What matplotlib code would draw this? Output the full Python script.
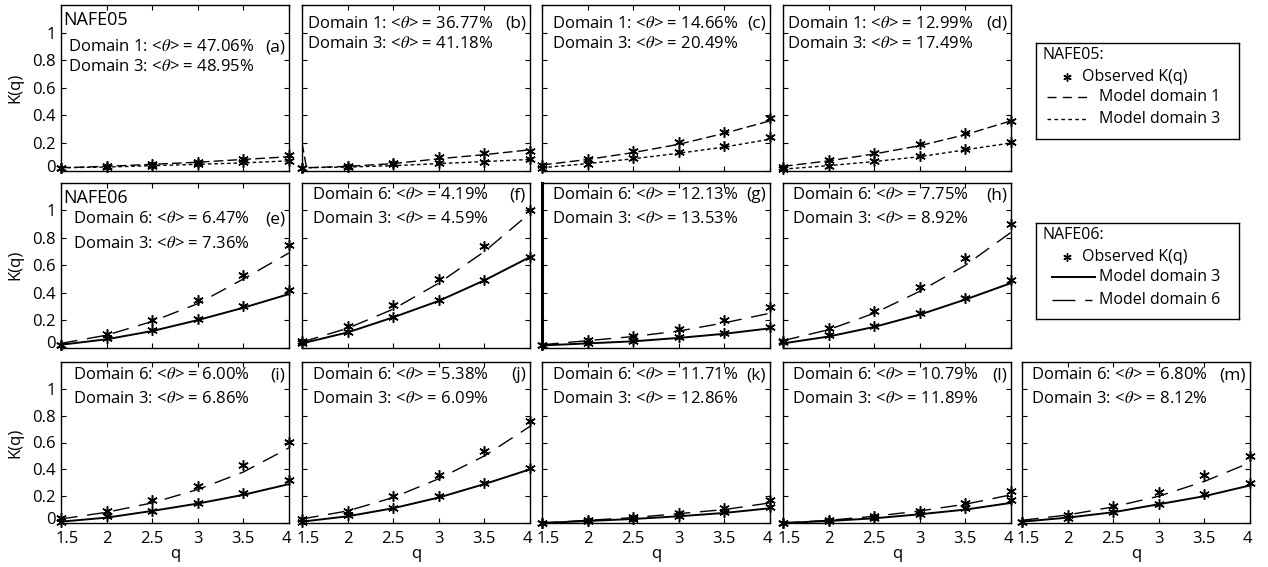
import matplotlib.pyplot as plt
from matplotlib.transforms import ScaledTranslation

plt.rcParams['font.family'] = ['Open Sans', 'DejaVu Sans']
plt.rcParams['mathtext.fontset'] = 'stix'
plt.rcParams['lines.scale_dashes'] = False

W, H = 1268, 567

# ------------------------------------------------------------------
# data: K(q) for each panel, q = 1.5 ... 4
# "hi" = domain 1 (NAFE05) / domain 6 (NAFE06), "lo" = domain 3
# ------------------------------------------------------------------
q = [1.5, 2.0, 2.5, 3.0, 3.5, 4.0]
panel_ids = ['a', 'b', 'c', 'd', 'e', 'f', 'g', 'h', 'i', 'j', 'k', 'l', 'm']

obs_hi = [
    [0.02, 0.03, 0.05, 0.065, 0.08, 0.11],     # a
    [0.016, 0.035, 0.057, 0.10, 0.125, 0.144], # b
    [0.04, 0.085, 0.142, 0.21, 0.28, 0.38],    # c
    [0.028, 0.076, 0.13, 0.193, 0.275, 0.36],  # d
    [0.02, 0.098, 0.20, 0.345, 0.53, 0.745],   # e
    [0.047, 0.16, 0.31, 0.50, 0.74, 1.0],      # f
    [0.018, 0.055, 0.086, 0.135, 0.20, 0.297], # g
    [0.05, 0.144, 0.265, 0.44, 0.656, 0.90],   # h
    [0.034, 0.09, 0.17, 0.276, 0.43, 0.604],   # i
    [0.03, 0.09, 0.20, 0.36, 0.54, 0.76],      # j
    [0.0, 0.02, 0.045, 0.075, 0.11, 0.17],     # k
    [0.0, 0.02, 0.05, 0.09, 0.15, 0.24],       # l
    [0.01, 0.06, 0.13, 0.23, 0.356, 0.50],     # m
]
obs_lo = [
    [0.02, 0.028, 0.035, 0.047, 0.064, 0.07],  # a
    [0.016, 0.025, 0.047, 0.052, 0.064, 0.081],# b
    [0.02, 0.05, 0.089, 0.137, 0.178, 0.246],  # c
    [0.01, 0.035, 0.07, 0.108, 0.154, 0.205],  # d
    [0.02, 0.067, 0.127, 0.205, 0.30, 0.423],  # e
    [0.03, 0.115, 0.22, 0.345, 0.496, 0.66],   # f
    [0.018, 0.03, 0.047, 0.074, 0.103, 0.151], # g
    [0.04, 0.09, 0.16, 0.25, 0.36, 0.49],      # h
    [0.01, 0.05, 0.09, 0.148, 0.223, 0.318],   # i
    [0.01, 0.06, 0.11, 0.20, 0.30, 0.41],      # j
    [0.0, 0.015, 0.03, 0.05, 0.08, 0.12],      # k
    [0.0, 0.015, 0.035, 0.065, 0.11, 0.17],    # l
    [0.01, 0.04, 0.085, 0.145, 0.213, 0.298],  # m
]
mod_hi = [
    [0.02, 0.03, 0.045, 0.06, 0.08, 0.10],
    [0.02, 0.03, 0.05, 0.085, 0.115, 0.15],
    [0.04, 0.08, 0.13, 0.19, 0.27, 0.36],
    [0.03, 0.07, 0.12, 0.18, 0.26, 0.36],
    [0.03, 0.09, 0.19, 0.32, 0.50, 0.69],
    [0.04, 0.14, 0.28, 0.47, 0.70, 0.98],
    [0.02, 0.05, 0.08, 0.12, 0.18, 0.25],
    [0.05, 0.13, 0.25, 0.41, 0.60, 0.84],
    [0.03, 0.08, 0.15, 0.25, 0.38, 0.56],
    [0.03, 0.09, 0.19, 0.33, 0.50, 0.72],
    [0.0, 0.02, 0.04, 0.07, 0.10, 0.15],
    [0.0, 0.02, 0.05, 0.09, 0.14, 0.21],
    [0.02, 0.06, 0.12, 0.20, 0.31, 0.45],
]
mod_lo = [
    [0.02, 0.025, 0.035, 0.045, 0.055, 0.07],
    [0.02, 0.025, 0.035, 0.05, 0.065, 0.08],
    [0.02, 0.05, 0.085, 0.125, 0.17, 0.227],
    [0.01, 0.035, 0.065, 0.10, 0.15, 0.20],
    [0.02, 0.06, 0.12, 0.20, 0.29, 0.39],
    [0.03, 0.11, 0.22, 0.34, 0.49, 0.66],
    [0.015, 0.03, 0.045, 0.07, 0.10, 0.14],
    [0.03, 0.08, 0.15, 0.24, 0.35, 0.47],
    [0.01, 0.04, 0.09, 0.145, 0.21, 0.29],
    [0.01, 0.05, 0.11, 0.19, 0.29, 0.40],
    [0.0, 0.015, 0.03, 0.05, 0.075, 0.11],
    [0.0, 0.015, 0.035, 0.065, 0.10, 0.15],
    [0.01, 0.04, 0.08, 0.14, 0.20, 0.28],
]
# panel (b): domain 1 model has a sharp jump right at q = 1.5
b_spike_q = [1.5, 1.55]
b_spike_k = [0.2, 0.02]

theta_hi = ['47.06', '36.77', '14.66', '12.99', '6.47', '4.19', '12.13', '7.75',
            '6.00', '5.38', '11.71', '10.79', '6.80']
theta_lo = ['48.95', '41.18', '20.49', '17.49', '7.36', '4.59', '13.53', '8.92',
            '6.86', '6.09', '12.86', '11.89', '8.12']

# ------------------------------------------------------------------
# layout (pixels)
# ------------------------------------------------------------------
col_left = [61, 302, 542, 783, 1022]
panel_w = 228
row_top = [5, 183, 362]
row_bot = [170.5, 347.5, 523]
row_cols = [4, 4, 5]

ast = (6, 2, 0)   # asterisk marker
FS = 12

fig = plt.figure(figsize=(W / 100, H / 100), dpi=100)


def px_axes(l, t, r, b):
    return fig.add_axes([l / W, 1 - b / H, (r - l) / W, (b - t) / H])


def note(ax, s, dx, dy, **kw):
    ax.annotate(s, xy=(0, 1), xycoords='axes fraction', xytext=(dx, -dy),
                textcoords='offset pixels', va='center', **kw)


def shift(label, dx, dy):
    label.set_transform(label.get_transform() +
                        ScaledTranslation(dx / 100, dy / 100, fig.dpi_scale_trans))


# text offsets inside each panel: (x, first line y, line spacing)
txt_dx = [7, 5, 10, 4, 12, 10, 10, 9, 12, 10, 10, 9, 9]
txt_dy = [42, 19, 19, 19, 36, 12, 12, 12, 13, 13, 13, 13, 13]
txt_gap = [20, 20, 20, 20, 25, 24, 24, 24, 24, 24, 24, 24, 24]

idx = 0
for r in range(3):
    for c in range(row_cols[r]):
        ax = px_axes(col_left[c], row_top[r], col_left[c] + panel_w, row_bot[r])
        if r == 0:
            hi_style = dict(color='k', lw=1.0, dashes=(7, 3))
            lo_style = dict(color='k', lw=1.0, dashes=(2.6, 2))
            name_hi, name_lo = 'Domain 1', 'Domain 3'
        else:
            hi_style = dict(color='k', lw=1.0, dashes=(12, 7))
            lo_style = dict(color='k', lw=1.4, ls='-')
            name_hi, name_lo = 'Domain 6', 'Domain 3'

        if panel_ids[idx] == 'b':
            ax.plot(b_spike_q + q[1:], b_spike_k + mod_hi[idx][1:], **hi_style)
        else:
            ax.plot(q, mod_hi[idx], **hi_style)
        ax.plot(q, mod_lo[idx], **lo_style)
        ax.plot(q, obs_hi[idx], ls='none', marker=ast, ms=7.5, mew=1.1,
                color='k', clip_on=False)
        ax.plot(q, obs_lo[idx], ls='none', marker=ast, ms=7.5, mew=1.1,
                color='k', clip_on=False)

        ax.set_xlim(1.5, 4)
        ax.set_ylim(0, 1.2)
        ax.set_xticks(q)
        ax.set_yticks([0, 0.2, 0.4, 0.6, 0.8, 1.0])
        ax.tick_params(direction='in', length=3.5, width=0.8, top=True, right=True,
                       labelsize=FS, pad=4)
        for sp in ax.spines.values():
            sp.set_linewidth(1.0)
        if panel_ids[idx] == 'g':
            ax.spines['left'].set_linewidth(2.2)

        if c == 0:
            ax.set_yticklabels(['0', '0.2', '0.4', '0.6', '0.8', '1'])
            ax.set_ylabel('K(q)', fontsize=FS)
            ax.yaxis.set_label_coords(-0.165, 0.5)
            shift(ax.yaxis.get_major_ticks()[0].label1, 0, 5)
        else:
            ax.set_yticklabels([])
        if r == 2:
            ax.set_xticklabels(['1.5', '2', '2.5', '3', '3.5', '4'])
            ax.tick_params(axis='x', pad=6)
            xt = ax.xaxis.get_major_ticks()
            shift(xt[0].label1, 6, 0)
            shift(xt[-1].label1, -3, 0)
            ax.set_xlabel('q', fontsize=FS)
            ax.xaxis.set_label_coords(0.5, -0.14)
        else:
            ax.set_xticklabels([])

        dx, dy, gap = txt_dx[idx], txt_dy[idx], txt_gap[idx]
        note(ax, name_hi + r': <$\theta$> = ' + theta_hi[idx] + '%', dx, dy, fontsize=FS)
        note(ax, name_lo + r': <$\theta$> = ' + theta_lo[idx] + '%', dx, dy + gap, fontsize=FS)
        ax.annotate('(' + panel_ids[idx] + ')', xy=(1, 1), xycoords='axes fraction',
                    xytext=(-4, -dy), textcoords='offset pixels', va='center',
                    ha='right', fontsize=12.5)
        if idx == 0:
            note(ax, 'NAFE05', 2, 15, fontsize=13)
        if idx == 4:
            note(ax, 'NAFE06', 2, 15, fontsize=13)
        idx += 1


# ------------------------------------------------------------------
# legend boxes
# ------------------------------------------------------------------
def legend_box(t, b):
    lax = px_axes(1036, t, 1239, b)
    lax.set_xlim(1036, 1239)
    lax.set_ylim(b, t)
    lax.set_xticks([])
    lax.set_yticks([])
    for sp in lax.spines.values():
        sp.set_linewidth(1.0)
    return lax


LFS = 11.5
lax = legend_box(43, 139)
lax.text(1042, 55, 'NAFE05:', va='center', fontsize=LFS)
lax.plot([1067], [77], ls='none', marker=ast, ms=6, mew=1.0, color='k')
lax.text(1082, 77, 'Observed K(q)', va='center', fontsize=LFS)
lax.plot([1047, 1090], [97, 97], color='k', lw=1.0, dashes=(6.5, 4.5))
lax.text(1099, 97, 'Model domain 1', va='center', fontsize=LFS)
lax.plot([1047, 1088], [119, 119], color='k', lw=1.0, dashes=(2.6, 2.4))
lax.text(1099, 119, 'Model domain 3', va='center', fontsize=LFS)

lax = legend_box(223, 319)
lax.text(1042, 235, 'NAFE06:', va='center', fontsize=LFS)
lax.plot([1067], [257], ls='none', marker=ast, ms=6, mew=1.0, color='k')
lax.text(1082, 257, 'Observed K(q)', va='center', fontsize=LFS)
lax.plot([1052, 1095], [277, 277], color='k', lw=1.4)
lax.text(1099, 277, 'Model domain 3', va='center', fontsize=LFS)
lax.plot([1052, 1092], [300, 300], color='k', lw=1.0, dashes=(16.5, 7))
lax.text(1099, 300, 'Model domain 6', va='center', fontsize=LFS)

fig.savefig('out.png', dpi=100)
